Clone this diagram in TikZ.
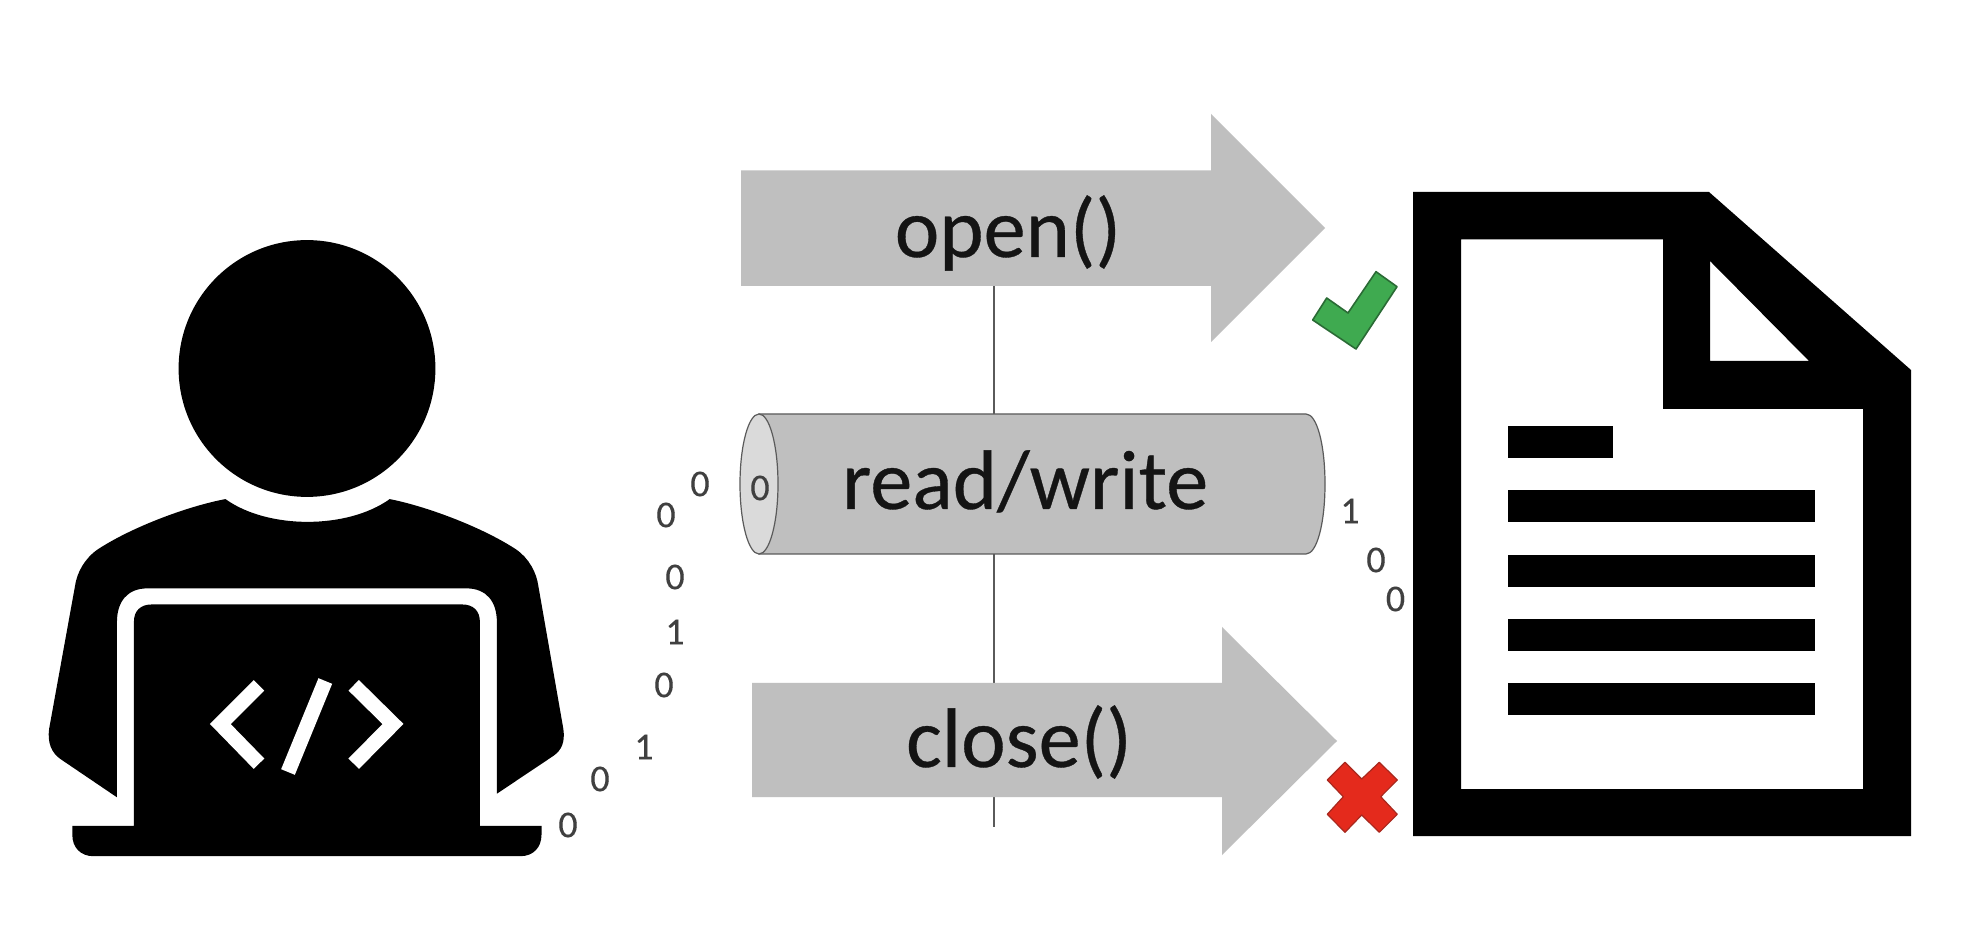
\documentclass[tikz,border=0pt]{standalone}
\usepackage{fontspec}
\setmainfont{Carlito}
\definecolor{arrowgrey}{HTML}{BFBFBF}
\definecolor{capgrey}{HTML}{DADADA}
\definecolor{edgegrey}{HTML}{5A5A5A}
\definecolor{bitgrey}{HTML}{404040}
\definecolor{okgreen}{HTML}{3FAA50}
\definecolor{okedge}{HTML}{2A6B35}
\definecolor{badred}{HTML}{E42A1C}
\definecolor{badedge}{HTML}{A8281E}
\tikzset{
  bit/.style={font=\fontsize{19}{19}\selectfont\addfontfeature{FakeBold=0.2}, text=bitgrey, inner sep=0pt, anchor=center},
  calltext/.style={font=\fontsize{42.2}{42.2}\selectfont\addfontfeature{FakeBold=0.4}, text=black!92, inner sep=0pt, anchor=base},
  callarrow/.style={fill=arrowgrey, draw=none},
  filebar/.style={fill=black, draw=none},
  glyphstroke/.style={draw=white, line width=7.4pt, miter limit=10}
}
\begin{document}
\begin{tikzpicture}[x=0.5pt,y=-0.5pt]
\useasboundingbox (0,0) rectangle (1966,940);
\fill[white] (0,0) rectangle (1966,940);

% programmer: head
\fill[black] (307,368.5) circle[radius=64.2pt];

% programmer: torso and laptop
\begin{scope}[shift={(0,200)},x=0.2232pt,y=-0.2232pt]
  \fill[black] (505,670)
    .. controls (600,738) and (778,738) .. (873,670)
    .. controls (950,685) and (1075,730) .. (1155,782)
    .. controls (1185,802) and (1202,835) .. (1206,865)
    -- (1262,1185)
    .. controls (1266,1215) and (1258,1232) .. (1240,1245)
    -- (1113,1330) -- (1113,945)
    .. controls (1113,900) and (1090,870) .. (1045,870)
    -- (330,870)
    .. controls (285,870) and (262,900) .. (262,945)
    -- (262,1338) -- (135,1252)
    .. controls (115,1238) and (106,1215) .. (110,1185)
    -- (168,865)
    .. controls (172,835) and (190,802) .. (220,782)
    .. controls (300,730) and (425,685) .. (505,670) -- cycle;
  \fill[black] (162,1402) -- (300,1402) -- (300,945)
    .. controls (300,920) and (315,906) .. (340,906)
    -- (1035,906)
    .. controls (1060,906) and (1075,920) .. (1075,945)
    -- (1075,1402) -- (1213,1402) -- (1213,1422)
    .. controls (1213,1450) and (1195,1470) .. (1165,1470)
    -- (210,1470)
    .. controls (180,1470) and (162,1450) .. (162,1422) -- cycle;
\end{scope}

% code symbol on the laptop lid
\draw[glyphstroke] (259,685.3) -- (220.3,724) -- (259,763.7);
\draw[glyphstroke] (353.7,685.3) -- (393,724) -- (353.7,763.7);
\draw[glyphstroke] (325.3,681) -- (288,772);

% connector running behind the three operations
\coordinate (railTop) at (994,286);
\coordinate (railEnd) at (994,827);
\draw[edgegrey, line width=0.7pt] (railTop) -- (railEnd);

% open() arrow
\fill[callarrow] (741,170.5) -- (1211,170.5) -- (1211,114) -- (1325,228)
  -- (1211,342) -- (1211,286) -- (741,286) -- cycle;
\node[calltext] (openLabel) at (1008,257) {open()};

% read/write cylinder
\filldraw[fill=arrowgrey, draw=edgegrey, line width=0.6pt] (759,414) -- (1306,414)
  .. controls (1317,414) and (1325,445) .. (1325,484)
  .. controls (1325,523) and (1317,554) .. (1306,554)
  -- (759,554) -- cycle;
\filldraw[fill=capgrey, draw=edgegrey, line width=0.6pt]
  (759,484) ellipse[x radius=9.5pt, y radius=35pt];
\node[calltext] (rwLabel) at (1025,509) {read/write};

% close() arrow
\fill[callarrow] (752,683) -- (1222,683) -- (1222,627) -- (1337,741)
  -- (1222,855) -- (1222,797) -- (752,797) -- cycle;
\node[calltext] (closeLabel) at (1019,767) {close()};

% bits travelling from the laptop to the file
\node[bit] (b1) at (568,825) {0};
\node[bit] (b2) at (600,779) {0};
\node[bit] (b3) at (644,747) {1};
\node[bit] (b4) at (664,685) {0};
\node[bit] (b5) at (675,632) {1};
\node[bit] (b6) at (675,577) {0};
\node[bit] (b7) at (666,515) {0};
\node[bit] (b8) at (700,484) {0};
\node[bit] (b9) at (760,488) {0};
\node[bit] (b10) at (1350,511) {1};
\node[bit] (b11) at (1376,560) {0};
\node[bit] (b12) at (1395.5,599) {0};

% check mark and cross
\filldraw[fill=okgreen, draw=okedge, line width=0.8pt, line join=round]
  (1312.7,320) -- (1326.7,298) -- (1348,313) -- (1376,271.7) -- (1397,286.7) -- (1356,349) -- cycle;
\filldraw[fill=badred, draw=badedge, line width=0.6pt, line join=round]
  (1345,762.3) -- (1361.7,779) -- (1379.3,762.3) -- (1397.3,780) -- (1380.7,796.7) -- (1397.3,814.3)
  -- (1379.3,832.3) -- (1361.7,815) -- (1345,832.3) -- (1327.3,814.3) -- (1343.3,796.7) -- (1327.3,780) -- cycle;

% document icon
\fill[black, even odd rule]
  (1413,192) -- (1709,192) -- (1911,370) -- (1911,836) -- (1413,836) -- cycle
  (1461,239.5) -- (1663,239.5) -- (1663,409) -- (1863,409) -- (1863,789) -- (1461,789) -- cycle
  (1710,261) -- (1809,361) -- (1710,361) -- cycle;
\fill[filebar] (1508,426) rectangle (1613,458);
\fill[filebar] (1508,490) rectangle (1815,522);
\fill[filebar] (1508,555) rectangle (1815,587);
\fill[filebar] (1508,619) rectangle (1815,651);
\fill[filebar] (1508,683) rectangle (1815,715);
\end{tikzpicture}
\end{document}
